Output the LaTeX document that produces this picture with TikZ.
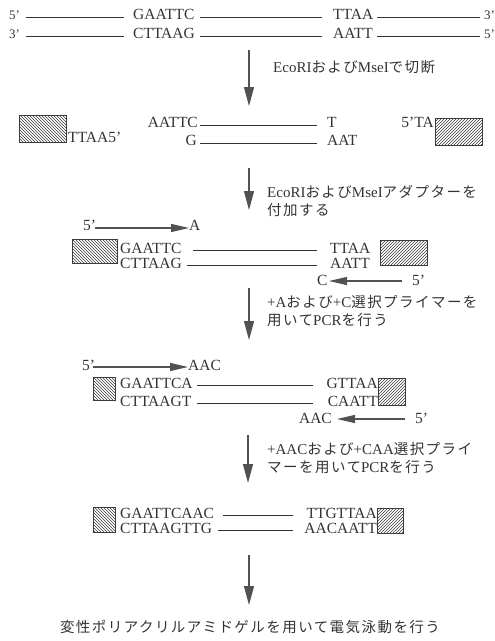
\documentclass[tikz,border=0pt]{standalone}
\usepackage{fontspec}
\setmainfont{Liberation Serif}
\newfontfamily\jpfont[LetterSpace=10]{Noto Sans CJK JP}
\newcommand{\J}[1]{{\jpfont\fontsize{14.5}{18}\selectfont #1}}
\usetikzlibrary{arrows.meta,patterns}
\definecolor{ink}{HTML}{333333}
\definecolor{hatch}{HTML}{3c3c3c}
\tikzset{
  seq/.style={inner sep=0pt, text=ink, font=\fontsize{15.5}{18}\selectfont},
  prime/.style={inner sep=0pt, text=ink, font=\fontsize{13}{15}\selectfont},
  note/.style={inner sep=0pt, text=ink, align=left, anchor=west, font=\fontsize{15}{18}\selectfont},
  strand/.style={draw=ink, line width=0.8pt},
  flow/.style={draw=ink!85, line width=1.3pt, -{Triangle[length=19pt,width=10pt]}},
  primer/.style={draw=ink!85, line width=1.1pt, -{Triangle[length=18pt,width=8pt]}},
  lbox/.style={draw=hatch, line width=1.4pt, pattern=north west lines, pattern color=hatch,
               inner sep=0pt, anchor=north west},
  rbox/.style={draw=hatch, line width=1.4pt, pattern=north east lines, pattern color=hatch,
               inner sep=0pt, anchor=north west},
}
\begin{document}
\begin{tikzpicture}[x=1pt,y=-1pt]
\useasboundingbox (0,0) rectangle (495,641);

% ---- genomic DNA ----
\node[prime, anchor=base west] (a5)  at (9,19) {5'};
\node[prime, anchor=base west] (a3)  at (9,38) {3'};
\node[seq, anchor=base west] (aE1) at (133,19) {GAATTC};
\node[seq, anchor=base west] (aE2) at (133,38) {CTTAAG};
\node[seq, anchor=base west] (aM1) at (333,19) {TTAA};
\node[seq, anchor=base west] (aM2) at (333,38) {AATT};
\node[prime, anchor=base west] (a3r) at (484,19) {3'};
\node[prime, anchor=base west] (a5r) at (484,38) {5'};
\coordinate (s1) at (26,17);  \coordinate (s2) at (124,17);
\coordinate (s3) at (200,17); \coordinate (s4) at (322,17);
\coordinate (s5) at (377,17); \coordinate (s6) at (480,17);
\coordinate (t1) at (26,36);  \coordinate (t2) at (124,36);
\coordinate (t3) at (200,36); \coordinate (t4) at (322,36);
\coordinate (t5) at (377,36); \coordinate (t6) at (480,36);
\draw[strand] (s1) -- (s2) (s3) -- (s4) (s5) -- (s6);
\draw[strand] (t1) -- (t2) (t3) -- (t4) (t5) -- (t6);

% ---- step 1 ----
\coordinate (f1a) at (249,50); \coordinate (f1b) at (249,106);
\draw[flow] (f1a) -- (f1b);
\node[note] (n1) at (273,67) {EcoRI\J{および}MseI\J{で切断}};

% ---- digested fragment ----
\node[lbox, minimum width=47pt, minimum height=27pt] (bL) at (19,115) {};
\node[seq, anchor=base west] (bL5) at (68,142) {TTAA5'};
\node[seq, anchor=base east] (bE1) at (198,127) {AATTC};
\node[seq, anchor=base east] (bE2) at (197,145) {G};
\node[seq, anchor=base west] (bM1) at (327,127) {T};
\node[seq, anchor=base west] (bM2) at (327,145) {AAT};
\node[seq, anchor=base east] (bR5) at (434,127) {5'TA};
\node[rbox, minimum width=47pt, minimum height=27pt] (bR) at (435,118) {};
\coordinate (u1) at (200,125); \coordinate (u2) at (317,125);
\coordinate (v1) at (200,143); \coordinate (v2) at (317,143);
\draw[strand] (u1) -- (u2) (v1) -- (v2);

% ---- step 2 ----
\coordinate (f2a) at (249,168); \coordinate (f2b) at (249,210);
\draw[flow] (f2a) -- (f2b);
\node[note] (n2) at (267,201) {EcoRI\J{および}MseI\J{アダプターを}\\\J{付加する}};

% ---- adapter-ligated fragment ----
\node[seq, anchor=base west] (c5) at (83,230) {5'};
\node[seq, anchor=base west] (cA) at (189,230) {A};
\coordinate (p1a) at (95,228); \coordinate (p1b) at (189,228);
\draw[primer] (p1a) -- (p1b);
\node[lbox, minimum width=45pt, minimum height=24pt] (cL) at (72,239) {};
\node[seq, anchor=base west] (cE1) at (120,253) {GAATTC};
\node[seq, anchor=base west] (cE2) at (120,268) {CTTAAG};
\node[seq, anchor=base west] (cM1) at (330,253) {TTAA};
\node[seq, anchor=base west] (cM2) at (330,268) {AATT};
\node[rbox, minimum width=47pt, minimum height=25pt] (cR) at (380,240) {};
\coordinate (w1) at (193,250); \coordinate (w2) at (317,250);
\coordinate (x1) at (187,265); \coordinate (x2) at (317,265);
\draw[strand] (w1) -- (w2) (x1) -- (x2);
\node[seq, anchor=base west] (cC) at (317,285) {C};
\node[seq, anchor=base west] (c5r) at (412,285) {5'};
\coordinate (p2a) at (402,281); \coordinate (p2b) at (329,281);
\draw[primer] (p2a) -- (p2b);

% ---- step 3 ----
\coordinate (f3a) at (249,288); \coordinate (f3b) at (249,340);
\draw[flow] (f3a) -- (f3b);
\node[note] (n3) at (267,311.5) {+A\J{および}+C\J{選択プライマーを}\\\J{用いて}PCR\J{を行う}};

% ---- +A / +C products ----
\node[seq, anchor=base west] (d5) at (82,370) {5'};
\node[seq, anchor=base west] (dA) at (188,370) {AAC};
\coordinate (p3a) at (93,367); \coordinate (p3b) at (188,367);
\draw[primer] (p3a) -- (p3b);
\node[lbox, minimum width=22pt, minimum height=23pt] (dL) at (93,377) {};
\node[seq, anchor=base west] (dE1) at (120,388) {GAATTCA};
\node[seq, anchor=base west] (dE2) at (120,406) {CTTAAGT};
\node[seq, anchor=base east] (dM1) at (378,388) {GTTAA};
\node[seq, anchor=base east] (dM2) at (378,406) {CAATT};
\node[rbox, minimum width=27pt, minimum height=27pt] (dR) at (378,378) {};
\coordinate (y1) at (197,385); \coordinate (y2) at (313,385);
\coordinate (z1) at (197,403); \coordinate (z2) at (313,403);
\draw[strand] (y1) -- (y2) (z1) -- (z2);
\node[seq, anchor=base east] (dC) at (332,423) {AAC};
\node[seq, anchor=base west] (d5r) at (415,423) {5'};
\coordinate (p4a) at (405,419); \coordinate (p4b) at (337,419);
\draw[primer] (p4a) -- (p4b);

% ---- step 4 ----
\coordinate (f4a) at (248,435); \coordinate (f4b) at (248,483);
\draw[flow] (f4a) -- (f4b);
\node[note] (n4) at (267,458.5) {+AAC\J{および}+CAA\J{選択プライ}\\\J{マーを用いて}PCR\J{を行う}};

% ---- selected products ----
\node[lbox, minimum width=22pt, minimum height=25pt] (eL) at (93,507) {};
\node[seq, anchor=base west] (eE1) at (120,518) {GAATTCAAC};
\node[seq, anchor=base west] (eE2) at (120,533) {CTTAAGTTG};
\node[seq, anchor=base east] (eM1) at (377,518) {TTGTTAA};
\node[seq, anchor=base east] (eM2) at (377,533) {AACAATT};
\node[rbox, minimum width=26pt, minimum height=25pt] (eR) at (377,508) {};
\coordinate (q1) at (223,515); \coordinate (q2) at (293,515);
\coordinate (r1) at (218,530); \coordinate (r2) at (293,530);
\draw[strand] (q1) -- (q2) (r1) -- (r2);

% ---- step 5 ----
\coordinate (f5a) at (249,555); \coordinate (f5b) at (249,605);
\draw[flow] (f5a) -- (f5b);
\node[inner sep=0pt, text=ink] (n5) at (250,627) {\J{変性ポリアクリルアミドゲルを用いて電気泳動を行う}};
\end{tikzpicture}
\end{document}
